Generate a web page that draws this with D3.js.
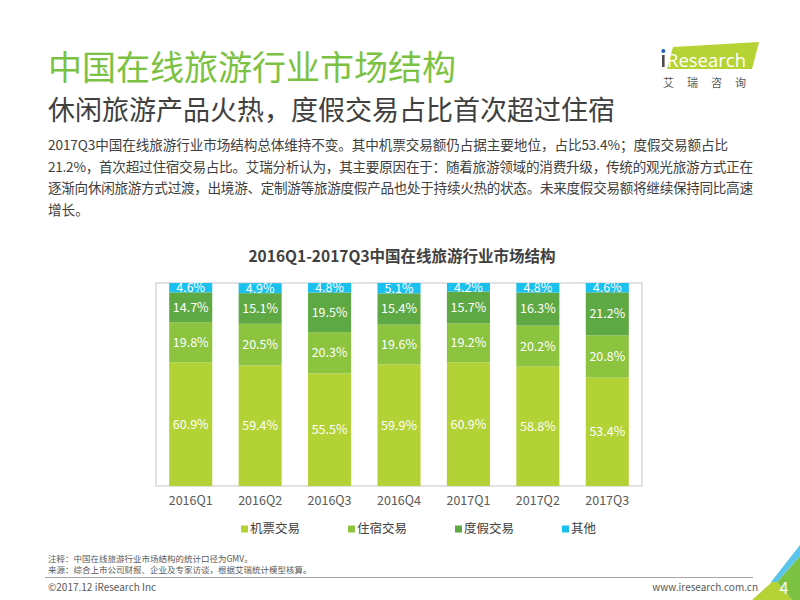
<!DOCTYPE html>
<html>
<head>
<meta charset="utf-8">
<script src="https://cdn.jsdelivr.net/npm/d3@7"></script>
<style>
  body { margin: 0; background: #fff; }
  svg { display: block; font-family: "Noto Sans CJK SC", "Noto Sans", sans-serif; }
</style>
</head>
<body>
<svg width="800" height="600"></svg>
<script>
// chart data
const quarters = ["2016Q1", "2016Q2", "2016Q3", "2016Q4", "2017Q1", "2017Q2", "2017Q3"];
const flight  = [60.9, 59.4, 55.5, 59.9, 60.9, 58.8, 53.4];
const hotel   = [19.8, 20.5, 20.3, 19.6, 19.2, 20.2, 20.8];
const holiday = [14.7, 15.1, 19.5, 15.4, 15.7, 16.3, 21.2];
const other   = [4.6, 4.9, 4.8, 5.1, 4.2, 4.8, 4.6];
const seriesNames = ["机票交易", "住宿交易", "度假交易", "其他"];
const seriesKeys = ["flight", "hotel", "holiday", "other"];
const colors = ["#b3d236", "#8cc43f", "#5fa945", "#1ac0ee"];

const bodyLines = [
  "2017Q3中国在线旅游行业市场结构总体维持不变。其中机票交易额仍占据主要地位，占比53.4%；度假交易额占比",
  "21.2%，首次超过住宿交易占比。艾瑞分析认为，其主要原因在于：随着旅游领域的消费升级，传统的观光旅游方式正在",
  "逐渐向休闲旅游方式过渡，出境游、定制游等旅游度假产品也处于持续火热的状态。未来度假交易额将继续保持同比高速",
  "增长。"
];
const bodyWidths = [680, 705, 705, null];

const svg = d3.select("svg");

// header
svg.append("text")
    .attr("x", 48).attr("y", 80)
    .attr("font-size", 34)
    .attr("fill", "#7cc242")
    .text("中国在线旅游行业市场结构");

svg.append("text")
    .attr("x", 48).attr("y", 120)
    .attr("font-size", 27)
    .attr("fill", "#404040")
    .text("休闲旅游产品火热，度假交易占比首次超过住宿");

svg.append("g").selectAll("text")
    .data(bodyLines)
    .enter()
    .append("text")
      .attr("x", 48)
      .attr("y", (d, i) => 150 + i * 21.5)
      .attr("font-size", 13.6)
      .attr("fill", "#404040")
      .attr("textLength", (d, i) => bodyWidths[i])
      .attr("lengthAdjust", "spacing")
      .text(d => d);

// logo
const logo = svg.append("g");
logo.append("polygon")
    .attr("points", "673,47 759,42 752,69 667,69")
    .attr("fill", "#b5d334");
logo.append("rect").attr("x", 662).attr("y", 55).attr("width", 2.6).attr("height", 12).attr("fill", "#4d4d4d");
logo.append("circle").attr("cx", 663.3).attr("cy", 51).attr("r", 2).attr("fill", "#1b63b8");
logo.append("text")
    .attr("x", 667).attr("y", 67)
    .attr("font-family", "'Open Sans', sans-serif")
    .attr("font-size", 18.5)
    .attr("fill", "#fff")
    .text("Research");
logo.append("text")
    .attr("x", 663).attr("y", 87)
    .attr("font-size", 11)
    .attr("letter-spacing", 13)
    .attr("fill", "#595959")
    .text("艾瑞咨询");

// chart
const frame = {left: 156, right: 642, top: 283, bottom: 486};

svg.append("text")
    .attr("x", 402).attr("y", 262)
    .attr("text-anchor", "middle")
    .attr("font-size", 15.5)
    .attr("font-weight", "bold")
    .attr("fill", "#404040")
    .text("2016Q1-2017Q3中国在线旅游行业市场结构");

svg.append("rect")
    .attr("x", frame.left).attr("y", frame.top)
    .attr("width", frame.right - frame.left)
    .attr("height", frame.bottom - frame.top)
    .attr("fill", "none")
    .attr("stroke", "#d9d9d9")
    .attr("stroke-width", 1.5);

const rows = quarters.map((q, i) => ({
  quarter: q, flight: flight[i], hotel: hotel[i], holiday: holiday[i], other: other[i]
}));

const stacked = d3.stack().keys(seriesKeys)(rows);

const x = d3.scaleBand()
    .domain(quarters)
    .range([frame.left, frame.right])
    .paddingInner(0.38)
    .paddingOuter(0.19);

const y = d3.scaleLinear()
    .domain([0, 100])
    .range([frame.bottom, frame.top]);

const layer = svg.append("g").selectAll("g")
    .data(stacked)
    .enter()
    .append("g")
      .attr("fill", (d, i) => colors[i]);

layer.selectAll("rect")
    .data(d => d)
    .enter()
    .append("rect")
      .attr("x", d => x(d.data.quarter))
      .attr("y", d => y(Math.min(d[1], 100)))
      .attr("width", x.bandwidth())
      .attr("height", d => y(d[0]) - y(Math.min(d[1], 100)));

layer.selectAll("text")
    .data(d => d)
    .enter()
    .append("text")
      .attr("x", d => x(d.data.quarter) + x.bandwidth() / 2)
      .attr("y", d => y((d[0] + Math.min(d[1], 100)) / 2))
      .attr("dy", "0.35em")
      .attr("text-anchor", "middle")
      .attr("font-size", 12.5)
      .attr("fill", "#fff")
      .text(d => (d[1] - d[0]).toFixed(1) + "%");

const xAxis = svg.append("g")
    .attr("transform", `translate(0,${frame.bottom})`)
    .call(d3.axisBottom(x).tickSize(0).tickPadding(10));
xAxis.select(".domain").remove();
xAxis.selectAll("text")
    .attr("font-family", "'Noto Sans CJK SC', sans-serif")
    .attr("font-size", 12.5)
    .attr("fill", "#595959");

// legend
const legend = svg.append("g").selectAll("g")
    .data(seriesNames)
    .enter()
    .append("g")
      .attr("transform", (d, i) => `translate(${241 + i * 107},529)`);
legend.append("rect")
    .attr("x", 0).attr("y", -3.5)
    .attr("width", 7).attr("height", 7)
    .attr("fill", (d, i) => colors[i]);
legend.append("text")
    .attr("x", 9).attr("dy", "0.35em")
    .attr("font-size", 12.5)
    .attr("fill", "#404040")
    .text(d => d);

// footer
svg.append("text")
    .attr("x", 48).attr("y", 562)
    .attr("font-size", 8.5)
    .attr("fill", "#595959")
    .text("注释：中国在线旅游行业市场结构的统计口径为GMV。");
svg.append("text")
    .attr("x", 48).attr("y", 573)
    .attr("font-size", 8.5)
    .attr("fill", "#595959")
    .text("来源：综合上市公司财报、企业及专家访谈，根据艾瑞统计模型核算。");
svg.append("line")
    .attr("x1", 45).attr("x2", 753)
    .attr("y1", 577.5).attr("y2", 577.5)
    .attr("stroke", "#a6a6a6")
    .attr("stroke-width", 1);
svg.append("text")
    .attr("x", 48).attr("y", 591)
    .attr("font-size", 10)
    .attr("fill", "#595959")
    .text("©2017.12 iResearch Inc");
svg.append("text")
    .attr("x", 758).attr("y", 591)
    .attr("text-anchor", "end")
    .attr("font-size", 10)
    .attr("fill", "#595959")
    .text("www.iresearch.com.cn");

// corner decoration
svg.append("polygon").attr("points", "752,600 772,582 777,582 792,600").attr("fill", "#b5d334");
svg.append("polygon").attr("points", "777,582 800,556 800,600 792,600").attr("fill", "#7cc242");
svg.append("polygon").attr("points", "800,545 800,556 777,582 771,582").attr("fill", "#5bc4ea");
svg.append("text")
    .attr("x", 784).attr("y", 594)
    .attr("text-anchor", "middle")
    .attr("font-size", 16)
    .attr("fill", "#fff")
    .text("4");
</script>
</body>
</html>
